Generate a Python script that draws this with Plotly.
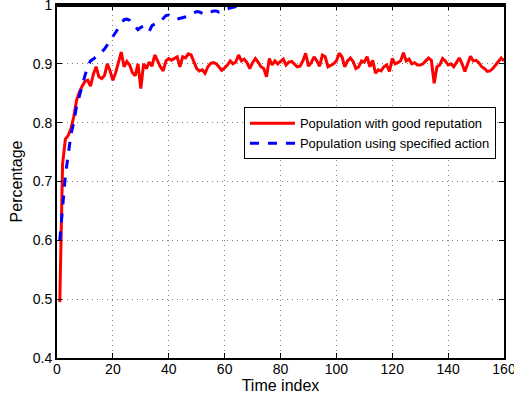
import plotly.graph_objects as go

time_index = list(range(1, 161))

good_reputation = [
    0.495, 0.730, 0.772, 0.778, 0.790, 0.810, 0.838, 0.852, 0.862, 0.870,
    0.872, 0.862, 0.882, 0.895, 0.878, 0.875, 0.880, 0.900, 0.888, 0.872,
    0.885, 0.905, 0.920, 0.895, 0.904, 0.898, 0.885, 0.880, 0.900, 0.858,
    0.900, 0.892, 0.903, 0.896, 0.915, 0.905, 0.895, 0.888, 0.905, 0.909,
    0.906, 0.909, 0.912, 0.895, 0.912, 0.910, 0.917, 0.915, 0.905, 0.892,
    0.888, 0.890, 0.884, 0.895, 0.901, 0.902, 0.900, 0.895, 0.889, 0.893,
    0.898, 0.905, 0.900, 0.903, 0.915, 0.905, 0.908, 0.902, 0.892, 0.902,
    0.909, 0.903, 0.895, 0.892, 0.878, 0.909, 0.898, 0.905, 0.900, 0.904,
    0.908, 0.898, 0.903, 0.904, 0.900, 0.895, 0.896, 0.905, 0.918, 0.896,
    0.902, 0.912, 0.905, 0.896, 0.915, 0.912, 0.895, 0.898, 0.900, 0.905,
    0.918, 0.912, 0.895, 0.905, 0.910, 0.904, 0.892, 0.895, 0.905, 0.903,
    0.912, 0.895, 0.906, 0.884, 0.890, 0.888, 0.895, 0.898, 0.887, 0.909,
    0.900, 0.902, 0.905, 0.919, 0.905, 0.908, 0.900, 0.902, 0.898, 0.898,
    0.900, 0.905, 0.910, 0.906, 0.867, 0.895, 0.898, 0.909, 0.905, 0.898,
    0.900, 0.895, 0.903, 0.910, 0.900, 0.887, 0.900, 0.913, 0.905, 0.906,
    0.902, 0.895, 0.892, 0.887, 0.888, 0.892, 0.898, 0.905, 0.910, 0.905,
]

specified_action = [
    0.600, 0.660, 0.710, 0.745, 0.780, 0.800, 0.828, 0.845, 0.865, 0.880,
    0.895, 0.905, 0.908, 0.912, 0.915, 0.920, 0.925, 0.932, 0.940, 0.948,
    0.955, 0.962, 0.969, 0.975, 0.976, 0.974, 0.968, 0.962, 0.958, 0.962,
    0.964, 0.958, 0.955, 0.965, 0.968, 0.970, 0.972, 0.978, 0.982, 0.983,
    0.980, 0.977, 0.976, 0.977, 0.978, 0.979, 0.981, 0.984, 0.987, 0.989,
    0.988, 0.986, 0.984, 0.986, 0.988, 0.990, 0.990, 0.988, 0.990, 0.992,
    0.994, 0.995, 0.996, 0.997, 0.998, 1.000, 1.000, 1.000, 1.000, 1.000,
    1.000, 1.000, 1.000, 1.000, 1.000, 1.000, 1.000, 1.000, 1.000, 1.000,
    1.000, 1.000, 1.000, 1.000, 1.000, 1.000, 1.000, 1.000, 1.000, 1.000,
    1.000, 1.000, 1.000, 1.000, 1.000, 1.000, 1.000, 1.000, 1.000, 1.000,
    1.000, 1.000, 1.000, 1.000, 1.000, 1.000, 1.000, 1.000, 1.000, 1.000,
    1.000, 1.000, 1.000, 1.000, 1.000, 1.000, 1.000, 1.000, 1.000, 1.000,
    1.000, 1.000, 1.000, 1.000, 1.000, 1.000, 1.000, 1.000, 1.000, 1.000,
    1.000, 1.000, 1.000, 1.000, 1.000, 1.000, 1.000, 1.000, 1.000, 1.000,
    1.000, 1.000, 1.000, 1.000, 1.000, 1.000, 1.000, 1.000, 1.000, 1.000,
    1.000, 1.000, 1.000, 1.000, 1.000, 1.000, 1.000, 1.000, 1.000, 1.000,
]

x_ticks = [0, 20, 40, 60, 80, 100, 120, 140, 160]
y_ticks = [0.4, 0.5, 0.6, 0.7, 0.8, 0.9, 1]
y_tick_text = ["0.4", "0.5", "0.6", "0.7", "0.8", "0.9", "1"]

FONT = "Liberation Sans, Arial, sans-serif"

fig = go.Figure()
fig.add_trace(go.Scatter(
    x=time_index, y=good_reputation, mode="lines",
    name="Population with good reputation",
    line=dict(color="#ff0000", width=3),
))
fig.add_trace(go.Scatter(
    x=time_index, y=specified_action, mode="lines",
    name="Population using specified action",
    line=dict(color="#0000ff", width=3, dash="dash"),
))

axis_common = dict(
    showline=True, mirror="ticks", linecolor="black", linewidth=2,
    ticks="inside", ticklen=5, tickcolor="black", tickwidth=1,
    showgrid=True, gridcolor="#808080", gridwidth=1, griddash="1px,4px",
    zeroline=False, ticklabeloverflow="allow", automargin=False,
    tickfont=dict(family=FONT, size=14, color="black"),
)

fig.update_xaxes(
    range=[0, 160], tickvals=x_ticks,
    title=dict(text="Time index", standoff=0,
               font=dict(family=FONT, size=16, color="black")),
    ticklabelstandoff=-3,
    **axis_common,
)
fig.update_yaxes(
    range=[0.4, 1], tickvals=y_ticks, ticktext=y_tick_text,
    title=dict(text="Percentage", standoff=6,
               font=dict(family=FONT, size=16, color="black")),
    **axis_common,
)

# top frame edge drawn above the traces (the original's box hides the line lying at 1)
fig.add_shape(type="line", xref="paper", yref="paper", x0=0, x1=1,
              y0=0.99717, y1=0.99717,
              line=dict(color="black", width=2), layer="above")

fig.update_layout(
    width=514, height=402,
    margin=dict(l=57, r=10, t=5, b=44),
    paper_bgcolor="white", plot_bgcolor="white",
    showlegend=True,
    legend=dict(
        x=0.982, y=0.71, xanchor="right", yanchor="top",
        bgcolor="white", bordercolor="black", borderwidth=1,
        font=dict(family=FONT, size=13, color="black"),
        tracegroupgap=0, itemwidth=45,
    ),
)

fig.write_html("out.html")
